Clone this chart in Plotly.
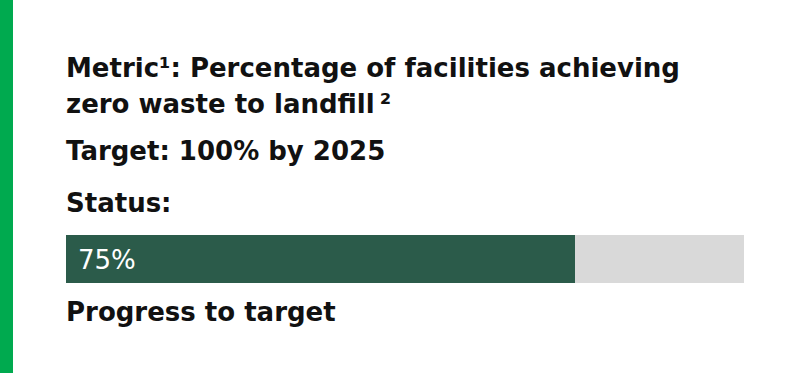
import plotly.graph_objects as go

# Data
categories = ["Progress to target"]
achieved = [75]
target = [100]
label_text = ["75%"]

W, H = 800, 373
FONT = "DejaVu Sans"

fig = go.Figure()
fig.add_trace(go.Bar(y=categories, x=target, orientation="h", marker=dict(color="#D9D9D9", line=dict(width=0)),
                     width=1, hoverinfo="skip", showlegend=False))
fig.add_trace(go.Bar(y=categories, x=achieved, orientation="h", marker=dict(color="#2B5B4A", line=dict(width=0)),
                     width=1, hoverinfo="skip", showlegend=False))

def py(p):
    return 1 - p / H

texts = [
    ("Metric¹: Percentage of facilities achieving", 68, "#111111"),
    ("zero waste to landfill\u2009²", 104, "#111111"),
    ("Target: 100% by 2025", 151, "#111111"),
    ("Status:", 203, "#111111"),
    ("Progress to target", 311.5, "#111111"),
]
for t, y, c in texts:
    fig.add_annotation(text=t, x=64 / W, y=py(y), xref="paper", yref="paper", xanchor="left", yanchor="middle",
                       showarrow=False, font=dict(family=FONT, size=26, color=c, weight="bold"))

fig.add_annotation(text=label_text[0], x=76 / W, y=py(260), xref="paper", yref="paper", xanchor="left",
                   yanchor="middle", showarrow=False, font=dict(family=FONT, size=26, color="white"))

fig.add_shape(type="rect", xref="paper", yref="paper", x0=0, x1=13 / W, y0=0, y1=1,
              fillcolor="#00AA4F", line=dict(width=0), layer="above")

fig.update_layout(
    width=W, height=H, margin=dict(l=0, r=0, t=0, b=0),
    paper_bgcolor="white", plot_bgcolor="white", barmode="overlay", bargap=0,
    xaxis=dict(domain=[66 / W, 744 / W], range=[0, 100], visible=False, fixedrange=True),
    yaxis=dict(domain=[py(283), py(235)], range=[-0.5, 0.5], visible=False, fixedrange=True),
)
fig.write_html("out.html", config={"displayModeBar": False},
               post_script="document.body.style.margin='0';document.body.style.overflow='hidden';")
